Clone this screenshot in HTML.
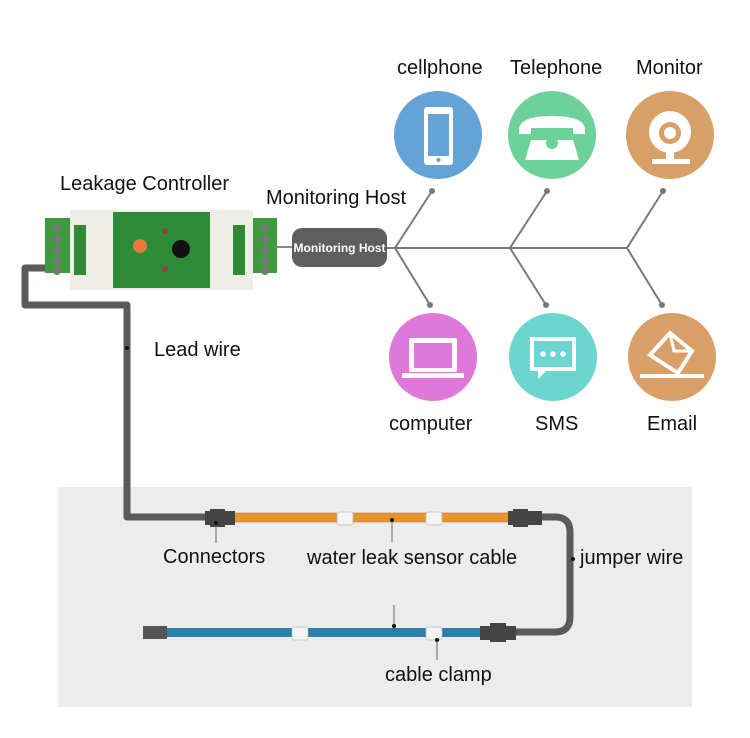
<!DOCTYPE html>
<html><head><meta charset="utf-8"><style>
body{margin:0;background:#fff;}
svg{display:block;font-family:"Liberation Sans",sans-serif;}
</style></head><body>
<svg width="750" height="738" viewBox="0 0 750 738">
<rect x="0" y="0" width="750" height="738" fill="#fff"/>
<rect x="58" y="487" width="634" height="220" fill="#ececec"/>

<!-- labels -->
<g font-size="20" fill="#111">
<text x="60" y="190">Leakage Controller</text>
<text x="266" y="204">Monitoring Host</text>
<text x="397" y="74">cellphone</text>
<text x="510" y="74">Telephone</text>
<text x="636" y="74">Monitor</text>
<text x="389" y="430">computer</text>
<text x="535" y="430">SMS</text>
<text x="647" y="430">Email</text>
<text x="154" y="356">Lead wire</text>
<text x="163" y="563">Connectors</text>
<text x="307" y="564">water leak sensor cable</text>
<text x="580" y="564">jumper wire</text>
<text x="385" y="681">cable clamp</text>
</g>

<!-- branch lines -->
<g stroke="#7a7a7a" stroke-width="2" fill="none">
<line x1="380" y1="248" x2="627" y2="248"/>
<polyline points="432,191 395,248 430,305"/>
<polyline points="547,191 510,248 546,305"/>
<polyline points="663,191 627,248 662,305"/>
</g>
<g fill="#777">
<circle cx="432" cy="191" r="3"/><circle cx="547" cy="191" r="3"/><circle cx="663" cy="191" r="3"/>
<circle cx="430" cy="305" r="3"/><circle cx="546" cy="305" r="3"/><circle cx="662" cy="305" r="3"/>
</g>

<!-- circles -->
<circle cx="438" cy="135" r="44" fill="#65a3d6"/>
<circle cx="552" cy="135" r="44" fill="#6cd29a"/>
<circle cx="670" cy="135" r="44" fill="#d7a067"/>
<circle cx="433" cy="357" r="44" fill="#df78d8"/>
<circle cx="553" cy="357" r="44" fill="#6dd5d0"/>
<circle cx="672" cy="357" r="44" fill="#d99f68"/>

<!-- icons -->
<g fill="#fff" stroke="none">
<rect x="424" y="107" width="29" height="58" rx="3"/>
<rect x="428" y="114" width="21" height="42" fill="#65a3d6"/>
<circle cx="438.5" cy="160" r="2" fill="#65a3d6"/>
<path d="M519,130 q0,-14 33,-14 q33,0 33,14 v4 h-12 v-6 h-42 v6 h-12 z"/>
<path d="M531,140 h42 l6,20 h-54 z"/>
<circle cx="552" cy="143" r="6" fill="#6cd29a"/>
<circle cx="670" cy="132" r="21"/>
<circle cx="670" cy="133" r="11" fill="#d7a067"/>
<circle cx="670" cy="133" r="6" fill="#fff"/>
<rect x="666" y="152" width="8" height="7"/>
<rect x="652" y="159" width="38" height="5"/>
<rect x="409" y="338" width="48" height="34" rx="2"/>
<rect x="414" y="343" width="38" height="25" fill="#df78d8"/>
<rect x="402" y="373" width="62" height="5" rx="1"/>
<path d="M530,337 h46 v34 h-30 l-8,8 v-8 h-8 z"/>
<rect x="534" y="341" width="38" height="26" fill="#6dd5d0"/>
<circle cx="543" cy="354" r="2.8"/><circle cx="553" cy="354" r="2.8"/><circle cx="563" cy="354" r="2.8"/>
<path d="M650,355 l20,-22 l22,18 l-14,22 z" fill="none" stroke="#fff" stroke-width="4"/>
<path d="M670,333 l4,18 l18,0" fill="none" stroke="#fff" stroke-width="3"/>
<rect x="640" y="374" width="64" height="4"/>
</g>

<!-- wires -->
<g fill="none" stroke="#5a5a5a" stroke-width="7" stroke-linejoin="round">
<polyline points="60,268 25,268 25,305 127,305 127,517 210,517"/>
<path d="M540,517 h15 q15,0 15,15 v85 q0,15 -15,15 h-40"/>
</g>
<rect x="232" y="513" width="280" height="9" fill="#e8932e"/>
<rect x="232" y="513" width="280" height="9" fill="none" stroke="#b86d1a" stroke-width="0.5"/>
<rect x="165" y="628" width="320" height="9" fill="#2c7fa8"/>
<rect x="143" y="626" width="24" height="13" fill="#555"/>
<g fill="#444">
<rect x="205" y="511" width="30" height="14"/><rect x="210" y="509" width="15" height="18"/>
<rect x="508" y="511" width="34" height="14"/><rect x="513" y="509" width="15" height="18"/>
<rect x="480" y="626" width="36" height="14"/><rect x="490" y="623" width="16" height="19"/>
</g>
<g fill="#f4f4f4" stroke="#bbb" stroke-width="0.7">
<rect x="337" y="512" width="16" height="13" rx="2"/>
<rect x="426" y="512" width="16" height="13" rx="2"/>
<rect x="292" y="627" width="16" height="13" rx="2"/>
<rect x="426" y="627" width="16" height="13" rx="2"/>
</g>
<g stroke="#666" stroke-width="1">
<line x1="216" y1="523" x2="216" y2="543"/>
<line x1="392" y1="520" x2="392" y2="542"/>
<line x1="394" y1="605" x2="394" y2="626"/>
<line x1="437" y1="640" x2="437" y2="660"/>
</g>
<g fill="#111">
<circle cx="216" cy="523" r="2"/><circle cx="392" cy="520" r="2"/><circle cx="394" cy="626" r="2"/>
<circle cx="437" cy="640" r="2"/><circle cx="127" cy="348" r="2"/><circle cx="573" cy="559" r="2"/>
</g>

<!-- controller -->
<rect x="45" y="218" width="25" height="55" fill="#3e9a3e"/>
<rect x="252" y="218" width="25" height="55" fill="#3e9a3e"/>
<g fill="#777">
<circle cx="57" cy="228" r="4"/><circle cx="57" cy="239" r="4"/><circle cx="57" cy="250" r="4"/><circle cx="57" cy="261" r="4"/><circle cx="57" cy="271" r="4"/>
<circle cx="265" cy="228" r="4"/><circle cx="265" cy="239" r="4"/><circle cx="265" cy="250" r="4"/><circle cx="265" cy="261" r="4"/><circle cx="265" cy="271" r="4"/>
</g>
<rect x="70" y="210" width="183" height="80" fill="#eeede8"/>
<rect x="74" y="225" width="12" height="50" fill="#2f8a36"/>
<rect x="233" y="225" width="12" height="50" fill="#2f8a36"/>
<rect x="113" y="212" width="97" height="76" fill="#2e8b38"/>
<circle cx="140" cy="246" r="7" fill="#e87a3c"/>
<circle cx="181" cy="249" r="9" fill="#111"/>
<circle cx="165" cy="231" r="3" fill="#884444"/>
<circle cx="165" cy="269" r="3" fill="#884444"/>

<line x1="277" y1="247" x2="292" y2="247" stroke="#888" stroke-width="2"/>
<rect x="292" y="228" width="95" height="39" rx="10" fill="#5e5e5e"/>
<text x="339.5" y="252" font-size="12" font-weight="bold" fill="#fff" text-anchor="middle">Monitoring Host</text>
</svg>
</body></html>
